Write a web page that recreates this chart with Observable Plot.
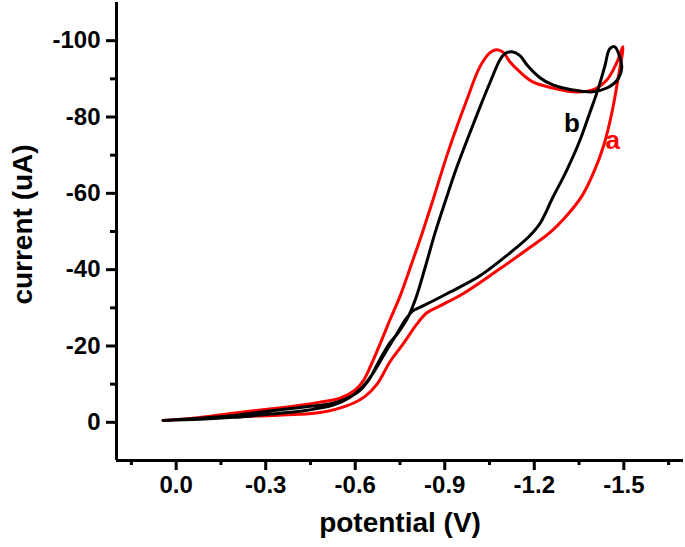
<!DOCTYPE html>
<html>
<head>
<meta charset="utf-8">
<script src="https://cdn.jsdelivr.net/npm/d3@7"></script>
<script src="https://cdn.jsdelivr.net/npm/@observablehq/plot@0.6"></script>
<style>
  html, body { margin: 0; padding: 0; background: #fff; }
  #chart svg { display: block; }
</style>
</head>
<body>
<div id="chart"></div>
<script>
// Curve a (red): potential (V) and current (uA), traced along the closed loop
const aPotential = [0.044,-0.080,-0.191,-0.305,-0.415,-0.482,-0.549,-0.599,-0.626,-0.650,-0.683,-0.716,-0.750,-0.790,-0.824,-0.857,-0.911,-0.974,-1.018,-1.051,-1.072,-1.095,-1.118,-1.152,-1.195,-1.262,-1.329,-1.396,-1.443,-1.476,-1.497,
  -1.480,-1.460,-1.433,-1.399,-1.359,-1.309,-1.252,-1.185,-1.075,-0.961,-0.884,-0.840,-0.807,-0.760,-0.716,-0.673,-0.633,-0.593,-0.533,-0.482,-0.415,-0.248,-0.080,0.044];
const aCurrent = [-0.5,-1.3,-2.4,-3.4,-4.5,-5.3,-6.3,-8.4,-10.8,-14.5,-20.5,-26.8,-33.0,-41.8,-49.5,-57.4,-70.8,-84.5,-93.2,-96.8,-97.6,-97.0,-94.5,-91.8,-89.2,-87.6,-86.6,-87.1,-89.7,-94.2,-98.4,
  -89.7,-81.1,-72.6,-65.5,-59.2,-54.2,-49.7,-45.8,-39.7,-33.7,-30.5,-28.7,-25.8,-20.5,-15.8,-10.0,-6.8,-5.0,-3.4,-2.6,-2.1,-1.6,-1.1,-0.5];

// Curve b (black)
const bPotential = [0.044,-0.080,-0.191,-0.305,-0.415,-0.526,-0.566,-0.609,-0.643,-0.676,-0.716,-0.743,-0.777,-0.803,-0.834,-0.867,-0.903,-0.942,-0.984,-1.018,-1.051,-1.085,-1.101,-1.125,-1.152,-1.175,-1.219,-1.262,-1.329,-1.396,-1.443,-1.476,-1.493,-1.486,-1.470,
  -1.453,-1.436,-1.413,-1.386,-1.353,-1.309,-1.262,-1.219,-1.185,-1.128,-1.018,-0.907,-0.827,-0.793,-0.773,-0.737,-0.700,-0.660,-0.623,-0.583,-0.526,-0.415,-0.305,-0.191,-0.080,0.044];
const bCurrent = [-0.5,-1.1,-1.8,-2.9,-3.9,-5.0,-6.1,-7.9,-10.8,-15.5,-20.8,-23.4,-27.6,-32.5,-40.5,-49.5,-58.2,-67.2,-75.8,-82.6,-88.9,-95.0,-96.6,-97.1,-96.1,-93.7,-90.3,-88.4,-87.1,-86.6,-87.6,-89.5,-92.9,-95.8,-98.4,
  -97.9,-93.2,-87.1,-81.1,-73.9,-66.1,-58.9,-52.1,-48.9,-45.0,-38.4,-33.7,-30.5,-29.2,-27.4,-22.9,-18.2,-12.9,-9.2,-6.6,-4.5,-2.9,-2.1,-1.3,-0.8,-0.5];

// Curve labels (text, potential, current)
const labelText = ["b", "a"];
const labelPotential = [-1.326, -1.463];
const labelCurrent = [-78.2, -73.9];
const labelColor = ["#000000", "#ff0000"];

// Axes
const xDomain = [0.2, -1.7];
const yDomain = [10, -110];
const xTicks = [0, -0.3, -0.6, -0.9, -1.2, -1.5];
const xMinorTicks = [0.15, -0.15, -0.45, -0.75, -1.05, -1.35, -1.65];
const yTicks = [0, -20, -40, -60, -80, -100];
const yMinorTicks = [-10, -30, -50, -70, -90];
const xLabel = "potential (V)";
const yLabel = "current (uA)";

const seriesA = aPotential.map((v, i) => ({potential: v, current: aCurrent[i]}));
const seriesB = bPotential.map((v, i) => ({potential: v, current: bCurrent[i]}));
const labels = labelText.map((t, i) => ({text: t, potential: labelPotential[i], current: labelCurrent[i], color: labelColor[i]}));

const FONT = "Arial, 'Liberation Sans', sans-serif";

const chart = Plot.plot({
  width: 685,
  height: 547,
  marginLeft: 116,
  marginRight: 2,
  marginTop: 2,
  marginBottom: 87,
  style: {fontFamily: FONT, background: "#fff", overflow: "visible"},
  x: {domain: xDomain, axis: null, label: null},
  y: {domain: yDomain, axis: null, label: null},
  marks: [
    Plot.line(seriesA, {x: "potential", y: "current", stroke: "#ff0000", strokeWidth: 3, curve: "catmull-rom"}),
    Plot.line(seriesB, {x: "potential", y: "current", stroke: "#000000", strokeWidth: 3, curve: "catmull-rom"}),
    Plot.ruleX([xDomain[0]], {stroke: "#000", strokeWidth: 3}),
    Plot.ruleY([yDomain[0]], {stroke: "#000", strokeWidth: 3}),
    Plot.axisY({ticks: yTicks, anchor: "left", label: null, tickSize: 10, tickPadding: 6, strokeWidth: 3,
      tickFormat: d => String(d), fontSize: 24, fontWeight: "bold", fill: "#000", stroke: "#000"}),
    Plot.axisY({ticks: yMinorTicks, anchor: "left", label: null, tickSize: 6, strokeWidth: 3, tickFormat: () => "", stroke: "#000"}),
    Plot.axisX({ticks: xTicks, anchor: "bottom", label: null, tickSize: 10, tickPadding: 5, strokeWidth: 3,
      tickFormat: d => d.toFixed(1), fontSize: 24, fontWeight: "bold", fill: "#000", stroke: "#000"}),
    Plot.axisX({ticks: xMinorTicks, anchor: "bottom", label: null, tickSize: 5, strokeWidth: 3, tickFormat: () => "", stroke: "#000"}),
    Plot.text([xLabel], {frameAnchor: "bottom", dy: 63, fontSize: 28, fontWeight: "bold", fill: "#000", textAnchor: "middle", lineAnchor: "middle"}),
    Plot.text([yLabel], {frameAnchor: "left", rotate: -90, dx: -93, dy: -7, fontSize: 28, fontWeight: "bold", fill: "#000", textAnchor: "middle", lineAnchor: "middle"}),
    Plot.text(labels, {x: "potential", y: "current", text: "text", fill: "color", fontSize: 26, fontWeight: "bold", lineAnchor: "middle"})
  ]
});
document.getElementById("chart").appendChild(chart);
</script>
</body>
</html>
